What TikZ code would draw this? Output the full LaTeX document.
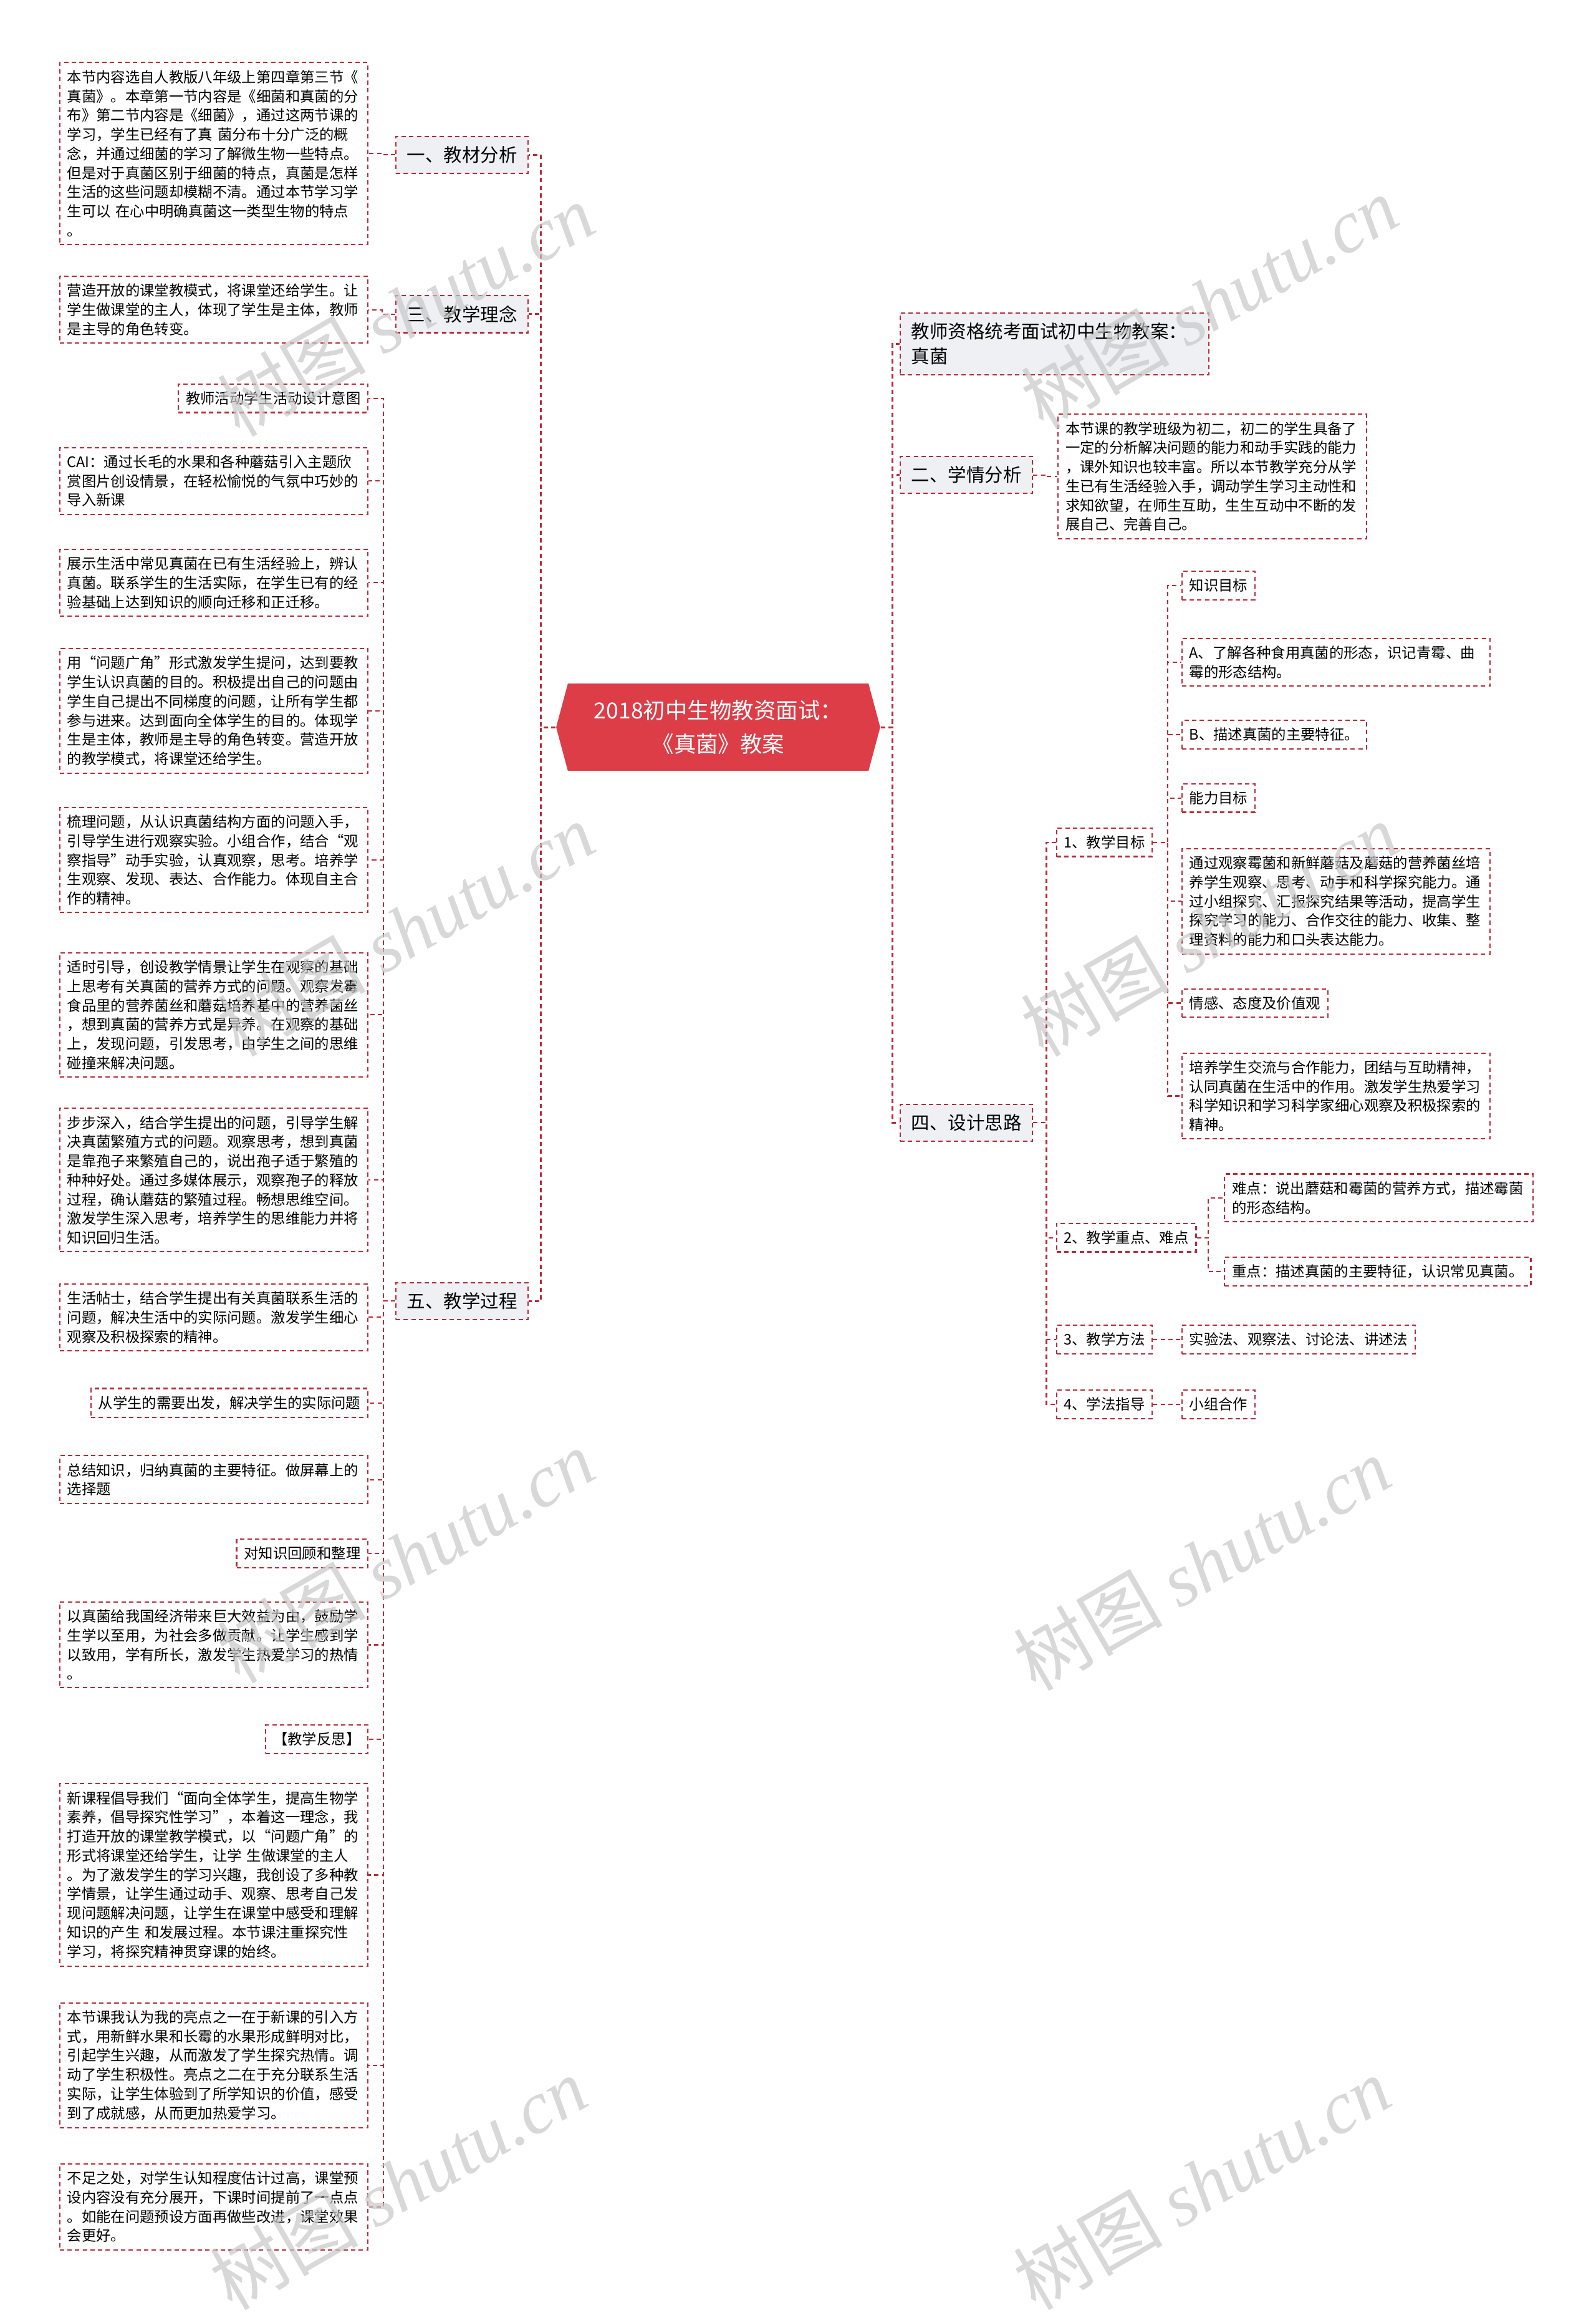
\documentclass[tikz,border=0pt]{standalone}
\usepackage{fontspec}
\setmainfont{Noto Sans CJK SC}
\newfontfamily\wmlatin{Liberation Serif}
\usepackage{xcolor}
\usepackage{tikz}
\usetikzlibrary{shapes.symbols}

\definecolor{linkred}{HTML}{B22D3B}
\definecolor{rootred}{HTML}{DC3D47}
\definecolor{topicgray}{HTML}{EEF0F3}

\begin{document}
\begin{tikzpicture}[
  x=0.02366cm, y=-0.02366cm,
  link/.style={draw=linkred, line width=0.6pt, dash pattern=on 2pt off 1.5pt},
  trunk/.style={link, line width=0.9pt},
  leaf/.style={link, font=\fontsize{6.65pt}{8.75pt}\selectfont, inner xsep=3.4pt, inner ysep=3.4pt, align=left},
  note/.style={leaf, text width=134pt},
  topic/.style={link, fill=topicgray, font=\fontsize{8.4pt}{11.4pt}\selectfont, inner xsep=5pt, inner ysep=4.5pt, align=left},
  root/.style={shape=signal, signal to=west and east, signal pointer angle=150, fill=rootred, text=white, align=center, minimum width=5.2cm, minimum height=1.4cm, inner sep=0pt, font=\fontsize{10.1pt}{15.4pt}\selectfont},
  wmark/.style={text=black!22, opacity=0.7, rotate=30, font=\fontsize{34pt}{34pt}\selectfont}
]
\useasboundingbox (0,0) rectangle (1082,1568);

\node[root] (root) at (487,493) {2018初中生物教资面试：\\《真菌》教案};

% left
\node[topic, anchor=west] (t1) at (268,105) {一、教材分析};
\node[topic, anchor=west] (t3) at (268,213) {三、教学理念};
\node[topic, anchor=west] (t5) at (268,882) {五、教学过程};

\node[note, anchor=east] (a1) at (250,104) {本节内容选自人教版八年级上第四章第三节《\\真菌》。本章第一节内容是《细菌和真菌的分\\布》第二节内容是《细菌》，通过这两节课的\\学习，学生已经有了真 菌分布十分广泛的概\\念，并通过细菌的学习了解微生物一些特点。\\但是对于真菌区别于细菌的特点，真菌是怎样\\生活的这些问题却模糊不清。通过本节学习学\\生可以 在心中明确真菌这一类型生物的特点\\。};
\node[note, anchor=east] (a3) at (250,210) {营造开放的课堂教模式，将课堂还给学生。让\\学生做课堂的主人，体现了学生是主体，教师\\是主导的角色转变。};

\node[leaf, anchor=east] (p1) at (250,270) {教师活动学生活动设计意图};
\node[note, anchor=east] (p2) at (250,326) {CAI：通过长毛的水果和各种蘑菇引入主题欣\\赏图片创设情景，在轻松愉悦的气氛中巧妙的\\导入新课};
\node[note, anchor=east] (p3) at (250,395) {展示生活中常见真菌在已有生活经验上，辨认\\真菌。联系学生的生活实际，在学生已有的经\\验基础上达到知识的顺向迁移和正迁移。};
\node[note, anchor=east] (p4) at (250,482) {用“问题广角”形式激发学生提问，达到要教\\学生认识真菌的目的。积极提出自己的问题由\\学生自己提出不同梯度的问题，让所有学生都\\参与进来。达到面向全体学生的目的。体现学\\生是主体，教师是主导的角色转变。营造开放\\的教学模式，将课堂还给学生。};
\node[note, anchor=east] (p5) at (250,583) {梳理问题，从认识真菌结构方面的问题入手，\\引导学生进行观察实验。小组合作，结合“观\\察指导”动手实验，认真观察，思考。培养学\\生观察、发现、表达、合作能力。体现自主合\\作的精神。};
\node[note, anchor=east] (p6) at (250,688) {适时引导，创设教学情景让学生在观察的基础\\上思考有关真菌的营养方式的问题。观察发霉\\食品里的营养菌丝和蘑菇培养基中的营养菌丝\\，想到真菌的营养方式是异养。在观察的基础\\上，发现问题，引发思考，由学生之间的思维\\碰撞来解决问题。};
\node[note, anchor=east] (p7) at (250,800) {步步深入，结合学生提出的问题，引导学生解\\决真菌繁殖方式的问题。观察思考，想到真菌\\是靠孢子来繁殖自己的，说出孢子适于繁殖的\\种种好处。通过多媒体展示，观察孢子的释放\\过程，确认蘑菇的繁殖过程。畅想思维空间。\\激发学生深入思考，培养学生的思维能力并将\\知识回归生活。};
\node[note, anchor=east] (p8) at (250,893) {生活帖士，结合学生提出有关真菌联系生活的\\问题，解决生活中的实际问题。激发学生细心\\观察及积极探索的精神。};
\node[leaf, anchor=east] (p9) at (250,951) {从学生的需要出发，解决学生的实际问题};
\node[note, anchor=east] (p10) at (250,1003) {总结知识，归纳真菌的主要特征。做屏幕上的\\选择题};
\node[leaf, anchor=east] (p11) at (250,1053) {对知识回顾和整理};
\node[note, anchor=east] (p12) at (250,1115) {以真菌给我国经济带来巨大效益为由，鼓励学\\生学以至用，为社会多做贡献。让学生感到学\\以致用，学有所长，激发学生热爱学习的热情\\。};
\node[leaf, anchor=east] (p13) at (250,1179) {【教学反思】};
\node[note, anchor=east] (p14) at (250,1271) {新课程倡导我们“面向全体学生，提高生物学\\素养，倡导探究性学习”，本着这一理念，我\\打造开放的课堂教学模式，以“问题广角”的\\形式将课堂还给学生，让学 生做课堂的主人\\。为了激发学生的学习兴趣，我创设了多种教\\学情景，让学生通过动手、观察、思考自己发\\现问题解决问题，让学生在课堂中感受和理解\\知识的产生 和发展过程。本节课注重探究性\\学习，将探究精神贯穿课的始终。};
\node[note, anchor=east] (p15) at (250,1400) {本节课我认为我的亮点之一在于新课的引入方\\式，用新鲜水果和长霉的水果形成鲜明对比，\\引起学生兴趣，从而激发了学生探究热情。调\\动了学生积极性。亮点之二在于充分联系生活\\实际，让学生体验到了所学知识的价值，感受\\到了成就感，从而更加热爱学习。};
\node[note, anchor=east] (p16) at (250,1496) {不足之处，对学生认知程度估计过高，课堂预\\设内容没有充分展开，下课时间提前了一点点\\。如能在问题预设方面再做些改进，课堂效果\\会更好。};

% right
\node[topic, anchor=west, text width=131pt] (t0) at (610,233) {教师资格统考面试初中生物教案：\\真菌};
\node[topic, anchor=west] (t2) at (610,322) {二、学情分析};
\node[topic, anchor=west] (t4) at (610,761) {四、设计思路};

\node[note, anchor=west] (a2) at (717,323) {本节课的教学班级为初二，初二的学生具备了\\一定的分析解决问题的能力和动手实践的能力\\，课外知识也较丰富。所以本节教学充分从学\\生已有生活经验入手，调动学生学习主动性和\\求知欲望，在师生互助，生生互动中不断的发\\展自己、完善自己。};

\node[leaf, anchor=west] (s1) at (716,571) {1、教学目标};
\node[leaf, anchor=west] (s2) at (716,839) {2、教学重点、难点};
\node[leaf, anchor=west] (s3) at (716,908) {3、教学方法};
\node[leaf, anchor=west] (s4) at (716,952) {4、学法指导};

\node[leaf, anchor=west] (k1) at (801,397) {知识目标};
\node[note, anchor=west] (k2) at (801,449) {A、了解各种食用真菌的形态，识记青霉、曲\\霉的形态结构。};
\node[leaf, anchor=west] (k3) at (801,498) {B、描述真菌的主要特征。};
\node[leaf, anchor=west] (k4) at (801,541) {能力目标};
\node[note, anchor=west] (k5) at (801,611) {通过观察霉菌和新鲜蘑菇及蘑菇的营养菌丝培\\养学生观察、思考、动手和科学探究能力。通\\过小组探究、汇报探究结果等活动，提高学生\\探究学习的能力、合作交往的能力、收集、整\\理资料的能力和口头表达能力。};
\node[leaf, anchor=west] (k6) at (801,680) {情感、态度及价值观};
\node[note, anchor=west] (k7) at (801,743) {培养学生交流与合作能力，团结与互助精神，\\认同真菌在生活中的作用。激发学生热爱学习\\科学知识和学习科学家细心观察及积极探索的\\精神。};

\node[note, anchor=west] (d1) at (830,812) {难点：说出蘑菇和霉菌的营养方式，描述霉菌\\的形态结构。};
\node[leaf, anchor=west] (d2) at (830,862) {重点：描述真菌的主要特征，认识常见真菌。};
\node[leaf, anchor=west] (m1) at (801,908) {实验法、观察法、讨论法、讲述法};
\node[leaf, anchor=west] (m2) at (801,952) {小组合作};

\foreach \n in {t1,t3,t5} \draw[trunk] (root.west) -- ++(-10,0) |- (\n.east);
\foreach \n in {t0,t2,t4} \draw[trunk] (root.east) -- ++(8,0) |- (\n.west);
\draw[link] (t1.west) -- ++(-9,0) |- (a1.east);
\draw[link] (t3.west) -- ++(-9,0) |- (a3.east);
\foreach \i in {1,...,16} \draw[link] (t5.west) -- ++(-8,0) |- (p\i.east);
\draw[link] (t2.east) -- ++(9,0) |- (a2.west);
\foreach \i in {1,...,4} \draw[link] (t4.east) -- ++(9,0) |- (s\i.west);
\foreach \i in {1,...,7} \draw[link] (s1.east) -- ++(10,0) |- (k\i.west);
\foreach \i in {1,2} \draw[link] (s2.east) -- ++(8,0) |- (d\i.west);
\draw[link] (s3.east) -- (m1.west);
\draw[link] (s4.east) -- (m2.west);

\foreach \wx/\wy [count=\w] in {275/210,820/205,275/630,820/630,275/1055,815/1060,270/1480,815/1480}
  \node[wmark] (wm\w) at (\wx,\wy) {树图 {\wmlatin\itshape shutu.cn}};
\end{tikzpicture}
\end{document}
